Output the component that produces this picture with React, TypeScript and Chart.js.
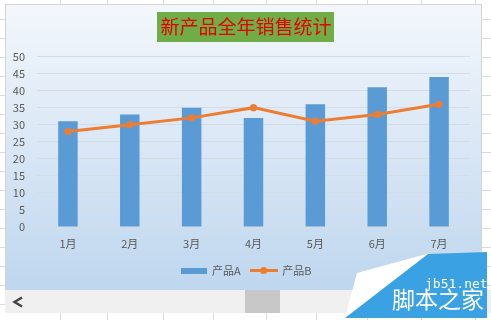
import React, { useEffect, useRef } from "react";
import { Chart, registerables } from "chart.js";

Chart.register(...registerables);

// Chart data
const months = ["1月", "2月", "3月", "4月", "5月", "6月", "7月"];
const productA = [31, 33, 35, 32, 36, 41, 44];
const productB = [28, 30, 32, 35, 31, 33, 36];
const seriesNames = ["产品A", "产品B"];
const chartTitle = "新产品全年销售统计";
const yMin = 0;
const yMax = 50;
const yStep = 5;

// Styling
const BAR_COLOR = "#5B9BD5";
const LINE_COLOR = "#ED7D31";
const TEXT_COLOR = "#595959";
const GRID_COLOR = "#D5DCE4";
const FONT = "'Noto Sans CJK SC', 'Noto Sans', sans-serif";
const TITLE_SIZE = 19;
const TITLE_PAD_TOP = 10.6;
const TITLE_PAD_BOTTOM = 18.1;
const HEADER_LEFT = 16; // left edge used for centring title and legend

// Green box behind the chart title
const titleBoxPlugin = {
  id: "titleBox",
  afterLayout(chart: any) {
    // centre title and legend on the frame rather than on the padded area
    if (chart.titleBlock) chart.titleBlock.left = HEADER_LEFT;
    if (chart.legend) chart.legend.left = HEADER_LEFT;
  },
  beforeDraw(chart: any) {
    const tb = chart.titleBlock;
    if (!tb) return;
    const ctx = chart.ctx as CanvasRenderingContext2D;
    ctx.save();
    ctx.font = `${TITLE_SIZE}px ${FONT}`;
    const w = ctx.measureText(chartTitle).width;
    const cx = (tb.left + tb.right) / 2;
    const cy = tb.top + TITLE_PAD_TOP + (TITLE_SIZE * 1.2) / 2;
    ctx.fillStyle = "#70AD47";
    ctx.fillRect(Math.round(cx - w / 2 - 3), Math.round(cy - 15), Math.round(w + 6), 30);
    ctx.restore();
  },
};

function makeBarSwatch() {
  const c = document.createElement("canvas");
  c.width = 26;
  c.height = 6;
  const g = c.getContext("2d")!;
  g.fillStyle = BAR_COLOR;
  g.fillRect(0, 0, 26, 6);
  return c;
}

function makeLineSwatch() {
  const c = document.createElement("canvas");
  c.width = 28;
  c.height = 9;
  const g = c.getContext("2d")!;
  g.strokeStyle = LINE_COLOR;
  g.lineWidth = 3;
  g.beginPath();
  g.moveTo(0, 4.5);
  g.lineTo(28, 4.5);
  g.stroke();
  g.fillStyle = LINE_COLOR;
  g.beginPath();
  g.arc(14, 4.5, 3.6, 0, Math.PI * 2);
  g.fill();
  return c;
}

const columnLines = [60, 107, 163, 213, 266, 316, 367, 421, 475];

export default function App() {
  const canvasRef = useRef<HTMLCanvasElement | null>(null);

  useEffect(() => {
    if (!canvasRef.current) return;
    const swatches = [makeBarSwatch(), makeLineSwatch()];
    const chart = new Chart(canvasRef.current, {
      type: "bar",
      data: {
        labels: months,
        datasets: [
          {
            type: "bar",
            label: seriesNames[0],
            data: productA,
            backgroundColor: BAR_COLOR,
            barPercentage: 0.315,
            categoryPercentage: 1,
            order: 1,
          },
          {
            type: "line",
            label: seriesNames[1],
            data: productB,
            borderColor: LINE_COLOR,
            backgroundColor: LINE_COLOR,
            borderWidth: 3,
            pointRadius: 3.6,
            pointBorderWidth: 0,
            pointBackgroundColor: LINE_COLOR,
            tension: 0,
            order: 0,
          },
        ] as any,
      },
      options: {
        animation: false,
        responsive: false,
        maintainAspectRatio: false,
        layout: { padding: { left: 4, right: 11, top: 0, bottom: 4 } },
        scales: {
          x: {
            grid: { display: false, drawTicks: false },
            border: { display: true, color: GRID_COLOR },
            ticks: { color: TEXT_COLOR, font: { size: 11, family: FONT }, padding: 10 },
            afterFit: (s: any) => {
              s.height = 28;
            },
          },
          y: {
            min: yMin,
            max: yMax,
            grid: { color: GRID_COLOR, drawTicks: false },
            border: { display: false },
            ticks: {
              stepSize: yStep,
              color: TEXT_COLOR,
              font: { size: 11, family: FONT },
              padding: 12,
            },
            afterFit: (s: any) => {
              s.width = 27;
            },
          },
        },
        plugins: {
          title: {
            display: true,
            text: chartTitle,
            color: "#E60000",
            font: { size: TITLE_SIZE, family: FONT, weight: "normal" as any, lineHeight: 1.2 },
            padding: { top: TITLE_PAD_TOP, bottom: TITLE_PAD_BOTTOM },
          },
          legend: {
            position: "bottom",
            labels: {
              usePointStyle: true,
              pointStyleWidth: 26,
              padding: 10,
              color: TEXT_COLOR,
              font: { size: 11, family: FONT },
              generateLabels: () =>
                seriesNames.map((name, i) => ({
                  text: name,
                  fillStyle: i === 0 ? BAR_COLOR : LINE_COLOR,
                  strokeStyle: i === 0 ? BAR_COLOR : LINE_COLOR,
                  lineWidth: 0,
                  pointStyle: swatches[i] as any,
                  hidden: false,
                  datasetIndex: i,
                  fontColor: TEXT_COLOR,
                })),
            },
          },
          tooltip: { enabled: false },
        },
      },
      plugins: [titleBoxPlugin],
    });
    return () => chart.destroy();
  }, []);

  return (
    <div
      style={{
        position: "fixed",
        left: 0,
        top: 0,
        width: 491,
        height: 320,
        overflow: "hidden",
        background: "#fff",
      }}
    >
      {/* worksheet cell grid */}
      <div
        style={{
          position: "absolute",
          inset: 0,
          backgroundImage:
            "repeating-linear-gradient(to bottom, transparent 0px, transparent 18px, #DADADA 18px, #DADADA 19px)",
          backgroundPosition: "0 1px",
        }}
      />
      {columnLines.map((x) => (
        <div
          key={x}
          style={{ position: "absolute", left: x, top: 0, width: 1, height: 320, background: "#DADADA" }}
        />
      ))}

      {/* chart frame */}
      <div
        style={{
          position: "absolute",
          left: 5,
          top: 4,
          width: 477,
          height: 300,
          boxSizing: "border-box",
          border: "1px solid #D4D4D4",
          background: "linear-gradient(to bottom, #F3F7FC 0%, #D8E6F5 50%, #BCD5EE 100%)",
        }}
      >
        <canvas
          ref={canvasRef}
          width={475}
          height={285}
          style={{ position: "absolute", left: 0, top: 0, width: 475, height: 285, display: "block" }}
        />
      </div>

      {/* horizontal scrollbar */}
      <div style={{ position: "absolute", left: 5, top: 290, width: 486, height: 23, background: "#F0F0F0" }} />
      <div style={{ position: "absolute", left: 245, top: 290, width: 35, height: 23, background: "#C8C8C8" }} />
      <svg
        width={491}
        height={320}
        style={{ position: "absolute", left: 0, top: 0, pointerEvents: "none" }}
      >
        <polyline points="22,297.5 14.5,302 22,306.5" fill="none" stroke="#444" strokeWidth={2.4} />
        <polygon points="345,318 357,273 430,253" fill="#FFFFFF" />
        <polygon points="345,318 428,254 487,252 487,318" fill="#3AA2E2" />
        <text x={425} y={288} fill="#fff" fontSize={13} fontFamily="'DejaVu Sans Mono', monospace">
          jb51.net
        </text>
        <text x={392} y={308} fill="#fff" fontSize={23} fontFamily="'Noto Sans CJK SC', sans-serif">
          脚本之家
        </text>
      </svg>
    </div>
  );
}
